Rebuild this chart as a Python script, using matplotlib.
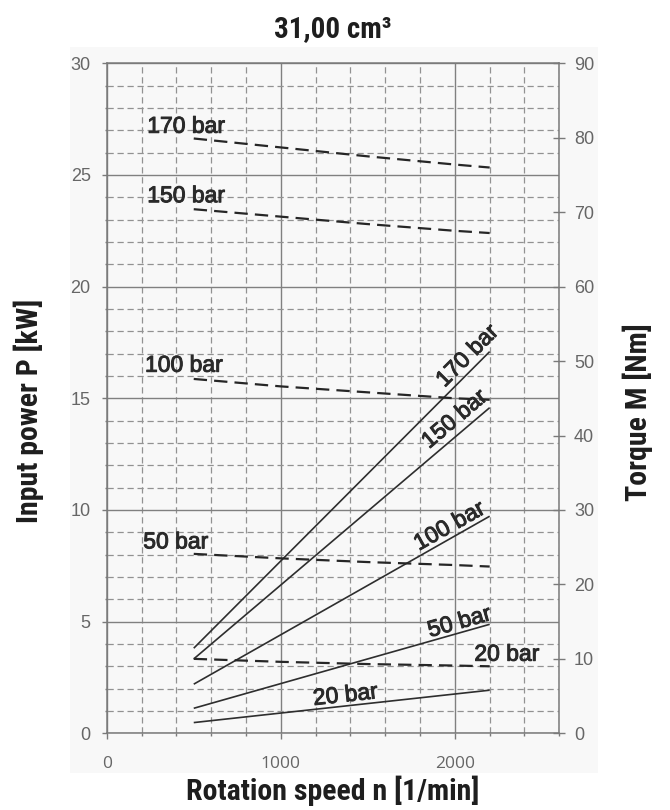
import math
import matplotlib
matplotlib.use("Agg")
import matplotlib.pyplot as plt
from matplotlib import font_manager as fm
from matplotlib import patheffects as pe
from matplotlib.patches import Rectangle
from matplotlib.ticker import MultipleLocator

# ---- data -------------------------------------------------------------
pressures = ["170 bar", "150 bar", "100 bar", "50 bar", "20 bar"]

# input power [kW] over speed (solid lines)
power_speed = [500, 2200]
power_170 = [3.81, 17.09]
power_150 = [3.33, 14.58]
power_100 = [2.20, 9.72]
power_50 = [1.12, 4.88]
power_20 = [0.48, 1.93]

# torque [Nm] over speed (dashed lines)
torque_speed = [500, 1000, 1500, 2000, 2200]
torque_170 = [79.9, 78.7, 77.5, 76.4, 76.0]
torque_150 = [70.4, 69.4, 68.4, 67.5, 67.2]
torque_100 = [47.6, 46.6, 45.8, 45.0, 44.8]
torque_50 = [24.1, 23.5, 23.0, 22.6, 22.4]
torque_20 = [10.0, 9.6, 9.3, 9.1, 9.0]

power_series = [power_170, power_150, power_100, power_50, power_20]
torque_series = [torque_170, torque_150, torque_100, torque_50, torque_20]

# ---- fonts ------------------------------------------------------------
available = {f.name for f in fm.fontManager.ttflist}
cond_family = None
for cand in ["Liberation Sans Narrow", "Roboto Condensed", "Open Sans Condensed",
             "Noto Sans Condensed", "DejaVu Sans Condensed"]:
    if cand in available:
        cond_family = cand
        break
if cond_family is None:
    head_font = dict(family="DejaVu Sans", stretch="condensed", weight="bold")
else:
    head_font = dict(family=cond_family, weight="bold")

tick_family = "Liberation Sans" if "Liberation Sans" in available else "DejaVu Sans"
xtick_family = "Open Sans" if "Open Sans" in available else tick_family

# ---- figure -----------------------------------------------------------
W, H = 670, 810
fig = plt.figure(figsize=(W / 100, H / 100), dpi=100)
fig.patch.set_facecolor("white")

# light panel behind the chart
fig.patches.append(Rectangle((70 / W, 1 - 773 / H), (598 - 70) / W, (773 - 47) / H,
                             transform=fig.transFigure, facecolor="#f8f8f8",
                             edgecolor="none", zorder=-10))

ax = fig.add_axes([106.7 / W, (H - 733.3) / H, (559.3 - 106.7) / W, (733.3 - 63.3) / H])
ax.set_facecolor("none")
ax.set_xlim(0, 2600)
ax.set_ylim(0, 30)

grid_major = "#808080"
grid_minor = "#929292"
ax.xaxis.set_major_locator(MultipleLocator(1000))
ax.xaxis.set_minor_locator(MultipleLocator(200))
ax.yaxis.set_major_locator(MultipleLocator(5))
ax.yaxis.set_minor_locator(MultipleLocator(1))
ax.grid(which="major", color=grid_major, lw=1.0, ls="-", zorder=1)
ax.grid(which="minor", color=grid_minor, lw=0.9, ls=(0, (5, 3)), zorder=1)
ax.set_axisbelow(True)

for s in ax.spines.values():
    s.set_color("#7a7a7a")
    s.set_linewidth(1.1)

tick_col = "#666666"
ax.tick_params(axis="y", which="major", direction="out", length=3.5, width=1,
               color="#7a7a7a", pad=8, labelsize=13, labelcolor=tick_col)
ax.tick_params(axis="y", which="minor", direction="out", length=1.5, width=1,
               color="#7a7a7a")
ax.tick_params(axis="x", which="major", direction="out", length=4, width=1,
               color="#7a7a7a", pad=12, labelsize=12.5, labelcolor=tick_col)
ax.tick_params(axis="x", which="minor", direction="out", length=2, width=1,
               color="#7a7a7a")
for lab in ax.get_yticklabels():
    lab.set_family(tick_family)
for lab in ax.get_xticklabels():
    lab.set_family(xtick_family)

# torque axis on the right
ax2 = ax.twinx()
ax2.set_ylim(0, 90)
ax2.yaxis.set_major_locator(MultipleLocator(10))
ax2.tick_params(axis="y", which="major", direction="inout", length=9, width=1,
                color="#7a7a7a", pad=6, labelsize=13, labelcolor=tick_col)
for lab in ax2.get_yticklabels():
    lab.set_family(tick_family)
for s in ax2.spines.values():
    s.set_visible(False)

# ---- curves -----------------------------------------------------------
line_col = "#2e2e2e"
for vals in power_series:
    ax.plot(power_speed, vals, color=line_col, lw=1.2, solid_capstyle="butt", zorder=3)
for vals in torque_series:
    ax2.plot(torque_speed, vals, color="#262626", lw=1.6, ls=(0, (6, 3.2)), zorder=3)

# ---- curve labels -----------------------------------------------------
label_col = "#2a2a2a"
label_kw = dict(fontsize=16.5, color=label_col, family=tick_family,
                path_effects=[pe.withStroke(linewidth=0.7, foreground=label_col)])

# torque labels (placed in power-axis units)
torque_label_pos = [(233, 26.89), (233, 23.78), (220, 16.19), (210, 8.28), (2112, 3.25)]
for txt, (x, y) in zip(pressures, torque_label_pos):
    ax.text(x, y, txt, ha="left", va="baseline", zorder=4, **label_kw)

# power labels, rotated along their lines
power_label_pos = [(2072, 16.9), (1998, 14.07), (1969, 9.28), (2026, 4.98), (1371, 1.71)]
for txt, vals, (x, y) in zip(pressures, power_series, power_label_pos):
    p0 = ax.transData.transform((power_speed[0], vals[0]))
    p1 = ax.transData.transform((power_speed[1], vals[1]))
    ang = math.degrees(math.atan2(p1[1] - p0[1], p1[0] - p0[0]))
    ax.text(x, y, txt, ha="center", va="center", rotation=ang,
            rotation_mode="anchor", zorder=4, **label_kw)

# ---- titles -----------------------------------------------------------
head_col = "#1e1e1e"
fig.text(333 / W, 1 - 36.7 / H, "31,00 cm³", ha="center", va="baseline",
         fontsize=21, color=head_col, **head_font)
fig.text(333 / W, 1 - 800 / H, "Rotation speed n [1/min]", ha="center", va="baseline",
         fontsize=21.5, color=head_col, **head_font)
fig.text(29 / W, 1 - 411 / H, "Input power P [kW]", ha="center", va="center",
         rotation=90, fontsize=21.5, color=head_col, **head_font)
fig.text(637.5 / W, 1 - 412 / H, "Torque M [Nm]", ha="center", va="center",
         rotation=90, fontsize=21.5, color=head_col, **head_font)

fig.savefig("out.png", dpi=100, facecolor="white")
